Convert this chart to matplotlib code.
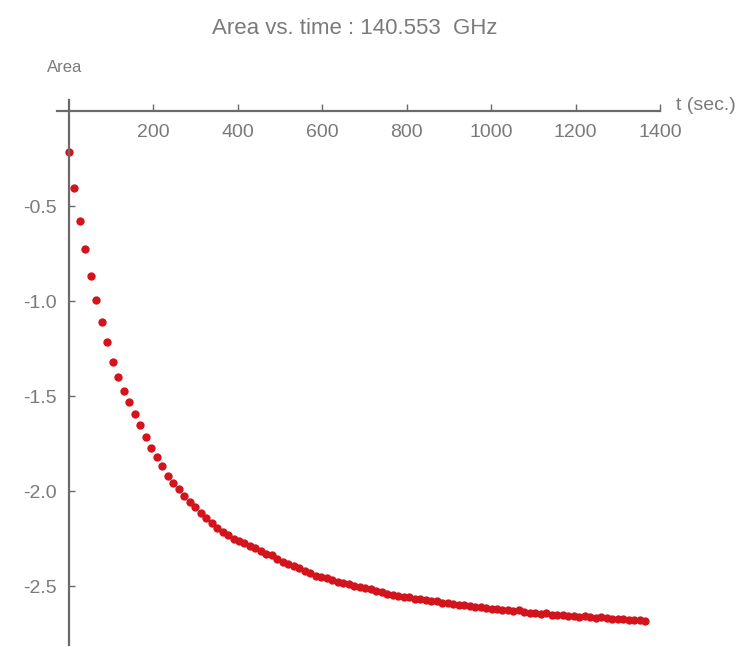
# encoding=utf-8

import matplotlib
matplotlib.use('Agg')
import matplotlib.pyplot as plt

# 数据：时间 (sec.) 和 面积
times = [0, 13, 26, 39, 52, 65, 78, 91, 104, 117,
         130, 143, 156, 169, 182, 195, 208, 221, 234, 247,
         260, 273, 286, 299, 312, 325, 338, 351, 364, 377,
         390, 403, 416, 429, 442, 455, 468, 481, 494, 507,
         520, 533, 546, 559, 572, 585, 598, 611, 624, 637,
         650, 663, 676, 689, 702, 715, 728, 741, 754, 767,
         780, 793, 806, 819, 832, 845, 858, 871, 884, 897,
         910, 923, 936, 949, 962, 975, 988, 1001, 1014, 1027,
         1040, 1053, 1066, 1079, 1092, 1105, 1118, 1131, 1144, 1157,
         1170, 1183, 1196, 1209, 1222, 1235, 1248, 1261, 1274, 1287,
         1300, 1313, 1326, 1339, 1352, 1365]

area = [-0.217, -0.405, -0.581, -0.726, -0.867, -0.993, -1.109, -1.214, -1.320, -1.400,
        -1.472, -1.533, -1.593, -1.650, -1.718, -1.775, -1.823, -1.870, -1.920, -1.958,
        -1.989, -2.025, -2.056, -2.086, -2.117, -2.144, -2.170, -2.196, -2.217, -2.232,
        -2.250, -2.262, -2.275, -2.290, -2.300, -2.316, -2.330, -2.338, -2.355, -2.372,
        -2.385, -2.392, -2.405, -2.420, -2.432, -2.445, -2.450, -2.458, -2.470, -2.478,
        -2.484, -2.490, -2.500, -2.505, -2.512, -2.516, -2.525, -2.530, -2.541, -2.546,
        -2.553, -2.556, -2.560, -2.566, -2.569, -2.574, -2.580, -2.578, -2.588, -2.590,
        -2.595, -2.600, -2.598, -2.606, -2.608, -2.611, -2.613, -2.620, -2.618, -2.624,
        -2.626, -2.630, -2.628, -2.636, -2.640, -2.642, -2.646, -2.644, -2.650, -2.652,
        -2.653, -2.658, -2.655, -2.661, -2.660, -2.663, -2.667, -2.665, -2.670, -2.672,
        -2.674, -2.671, -2.678, -2.680, -2.679, -2.684]

x_ticks = [200, 400, 600, 800, 1000, 1200, 1400]
y_ticks = [-0.5, -1.0, -1.5, -2.0, -2.5]
y_tick_labels = ['-0.5', '-1.0', '-1.5', '-2.0', '-2.5']

title = 'Area vs. time : 140.553  GHz'
text_color = '#7a7a7a'
axis_color = '#6a6a6a'
dot_color = '#d4141c'


def main():
    plt.rcParams['font.family'] = ['Liberation Sans', 'DejaVu Sans']
    fig = plt.figure(figsize=(7.56, 6.47), dpi=100)
    ax = fig.add_axes([57 / 756., 2 / 647., 603 / 756., 545 / 647.])   # 坐标区位置

    ax.plot(times, area, 'o', color=dot_color, markersize=6, markeredgewidth=0)
    ax.set_xlim(-28, 1400)
    ax.set_ylim(-2.81, 0.058)

    # 坐标轴穿过原点（Mathematica 风格）
    ax.spines['left'].set_position(('data', 0))
    ax.spines['bottom'].set_position(('data', 0))
    ax.spines['right'].set_visible(False)
    ax.spines['top'].set_visible(False)
    for s in ['left', 'bottom']:
        ax.spines[s].set_color(axis_color)
        ax.spines[s].set_linewidth(1.6)

    ax.set_xticks(x_ticks)
    ax.set_xticklabels([str(v) for v in x_ticks])
    ax.set_yticks(y_ticks)
    ax.set_yticklabels(y_tick_labels)
    ax.tick_params(axis='x', direction='in', length=5, width=1, color=axis_color,
                   labelcolor=text_color, labelsize=14, pad=9)
    ax.tick_params(axis='y', direction='in', length=4, width=1, color=axis_color,
                   labelcolor=text_color, labelsize=14, pad=9)

    fig.text(355 / 756., 1 - 28 / 647., title, ha='center', va='center',
             color=text_color, fontsize=16)
    fig.text(65 / 756., 1 - 68 / 647., 'Area', ha='center', va='center',
             color=text_color, fontsize=12)
    fig.text(676 / 756., 1 - 106 / 647., 't (sec.)', ha='left', va='center',
             color=text_color, fontsize=14)

    fig.savefig('out.png', dpi=100)


if __name__ == '__main__':
    main()
